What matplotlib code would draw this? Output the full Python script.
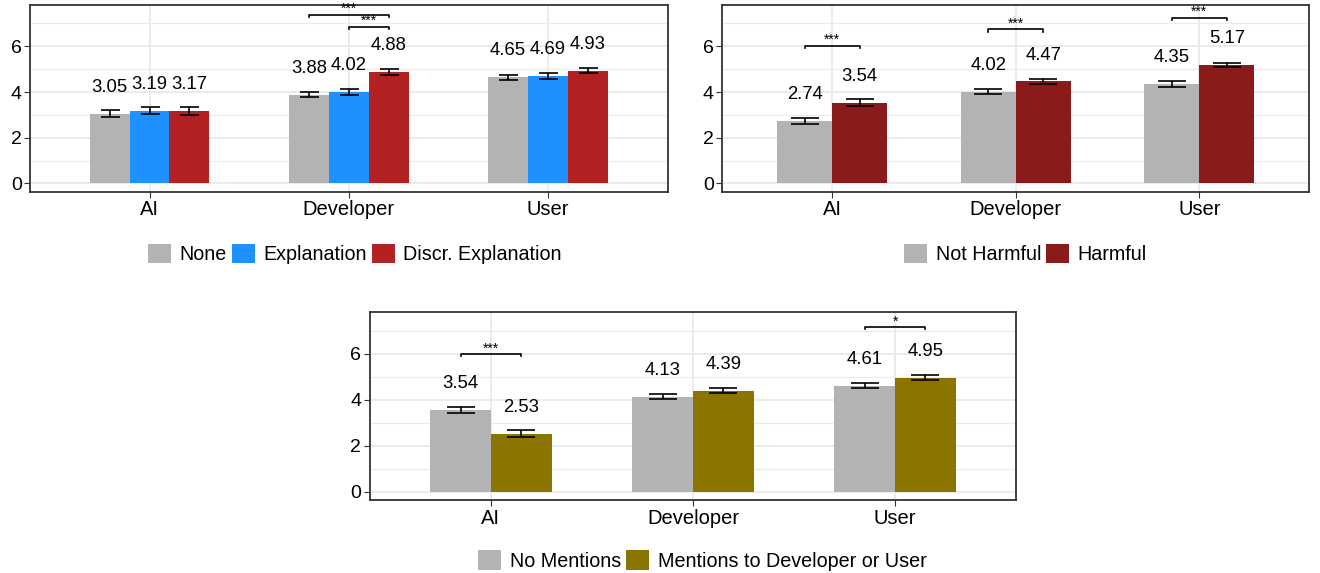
import numpy as np
import matplotlib.pyplot as plt

plt.rcParams['font.family'] = ['Liberation Sans', 'DejaVu Sans']

roles = ['AI', 'Developer', 'User']

# panel 1: explanation type
expl_names = ['None', 'Explanation', 'Discr. Explanation']
expl_means = [[3.05, 3.88, 4.65], [3.19, 4.02, 4.69], [3.17, 4.88, 4.93]]
expl_errs = [[0.145, 0.11, 0.11], [0.16, 0.13, 0.13], [0.17, 0.13, 0.11]]
expl_colors = ['#B3B3B3', '#1E90FF', '#B22222']
# (role, bar a, bar b, height, stars)
expl_sig = [('Developer', 0, 2, 7.39, '***'), ('Developer', 1, 2, 6.86, '***')]

# panel 2: harmfulness
harm_names = ['Not Harmful', 'Harmful']
harm_means = [[2.74, 4.02, 4.35], [3.54, 4.47, 5.17]]
harm_errs = [[0.13, 0.12, 0.12], [0.14, 0.11, 0.09]]
harm_colors = ['#B3B3B3', '#8B1A1A']
harm_sig = [('AI', 0, 1, 6.03, '***'), ('Developer', 0, 1, 6.74, '***'), ('User', 0, 1, 7.26, '***')]

# panel 3: mentions
ment_names = ['No Mentions', 'Mentions to Developer or User']
ment_means = [[3.54, 4.13, 4.61], [2.53, 4.39, 4.95]]
ment_errs = [[0.13, 0.12, 0.10], [0.14, 0.12, 0.11]]
ment_colors = ['#B3B3B3', '#8B7500']
ment_sig = [('AI', 0, 1, 5.99, '***'), ('User', 0, 1, 7.16, '*')]


def draw_panel(ax, names, means, errs, colors, sig, leg_xy):
    n = len(names)
    w = 0.6 / n
    x = np.arange(1, len(roles) + 1)
    for k in range(n):
        xs = x + (k - (n - 1) / 2) * w
        ax.bar(xs, means[k], width=w, color=colors[k], label=names[k], zorder=2)
        ax.errorbar(xs, means[k], yerr=errs[k], fmt='none', ecolor='black',
                    elinewidth=1.2, capsize=w * 0.25 * 190 * 0.72, capthick=1.2, zorder=3)
        for xi, v in zip(xs, means[k]):
            ax.text(xi, v + 1.15, f'{v:.2f}', ha='center', va='center', fontsize=13.3)
    for role, a, b, h, s in sig:
        c = roles.index(role) + 1
        xa = c + (a - (n - 1) / 2) * w
        xb = c + (b - (n - 1) / 2) * w
        ax.plot([xa, xa, xb, xb], [h - 0.1, h, h, h - 0.1], color='black', lw=1.2, zorder=3)
        ax.text((xa + xb) / 2, h - 0.07, s, ha='center', va='bottom', fontsize=10)

    ax.set_xlim(0.4, 3.6)
    ax.set_ylim(-0.37, 7.8)
    ax.set_xticks(x)
    ax.set_xticklabels(roles, fontsize=14.5)
    ax.set_yticks([0, 2, 4, 6])
    ax.set_yticks([1, 3, 5, 7], minor=True)
    ax.tick_params(axis='y', labelsize=14, length=4, color='#333333', pad=2)
    ax.tick_params(axis='x', length=4, color='#333333', pad=2)
    ax.tick_params(axis='y', which='minor', length=0)
    ax.grid(True, which='major', color='#EBEBEB', lw=1.4, zorder=0)
    ax.grid(True, which='minor', axis='y', color='#EBEBEB', lw=0.8, zorder=0)
    ax.set_axisbelow(True)
    for sp in ax.spines.values():
        sp.set_color('#333333')
        sp.set_linewidth(1.3)
    ax.legend(loc='center', bbox_to_anchor=leg_xy, bbox_transform=ax.figure.transFigure,
              ncol=n, frameon=False, fontsize=14.2, handlelength=1.15, handleheight=1.15,
              handletextpad=0.45, columnspacing=0.25, borderpad=0)


fig = plt.figure(figsize=(13.2, 5.73), dpi=100)
ax1 = fig.add_axes([0.0227, 0.665, 0.483, 0.326])
ax2 = fig.add_axes([0.547, 0.665, 0.445, 0.326])
ax3 = fig.add_axes([0.280, 0.127, 0.490, 0.328])

draw_panel(ax1, expl_names, expl_means, expl_errs, expl_colors, expl_sig, (0.269, 0.557))
draw_panel(ax2, harm_names, harm_means, harm_errs, harm_colors, harm_sig, (0.777, 0.557))
draw_panel(ax3, ment_names, ment_means, ment_errs, ment_colors, ment_sig, (0.532, 0.022))

fig.savefig('out.png', dpi=100)
